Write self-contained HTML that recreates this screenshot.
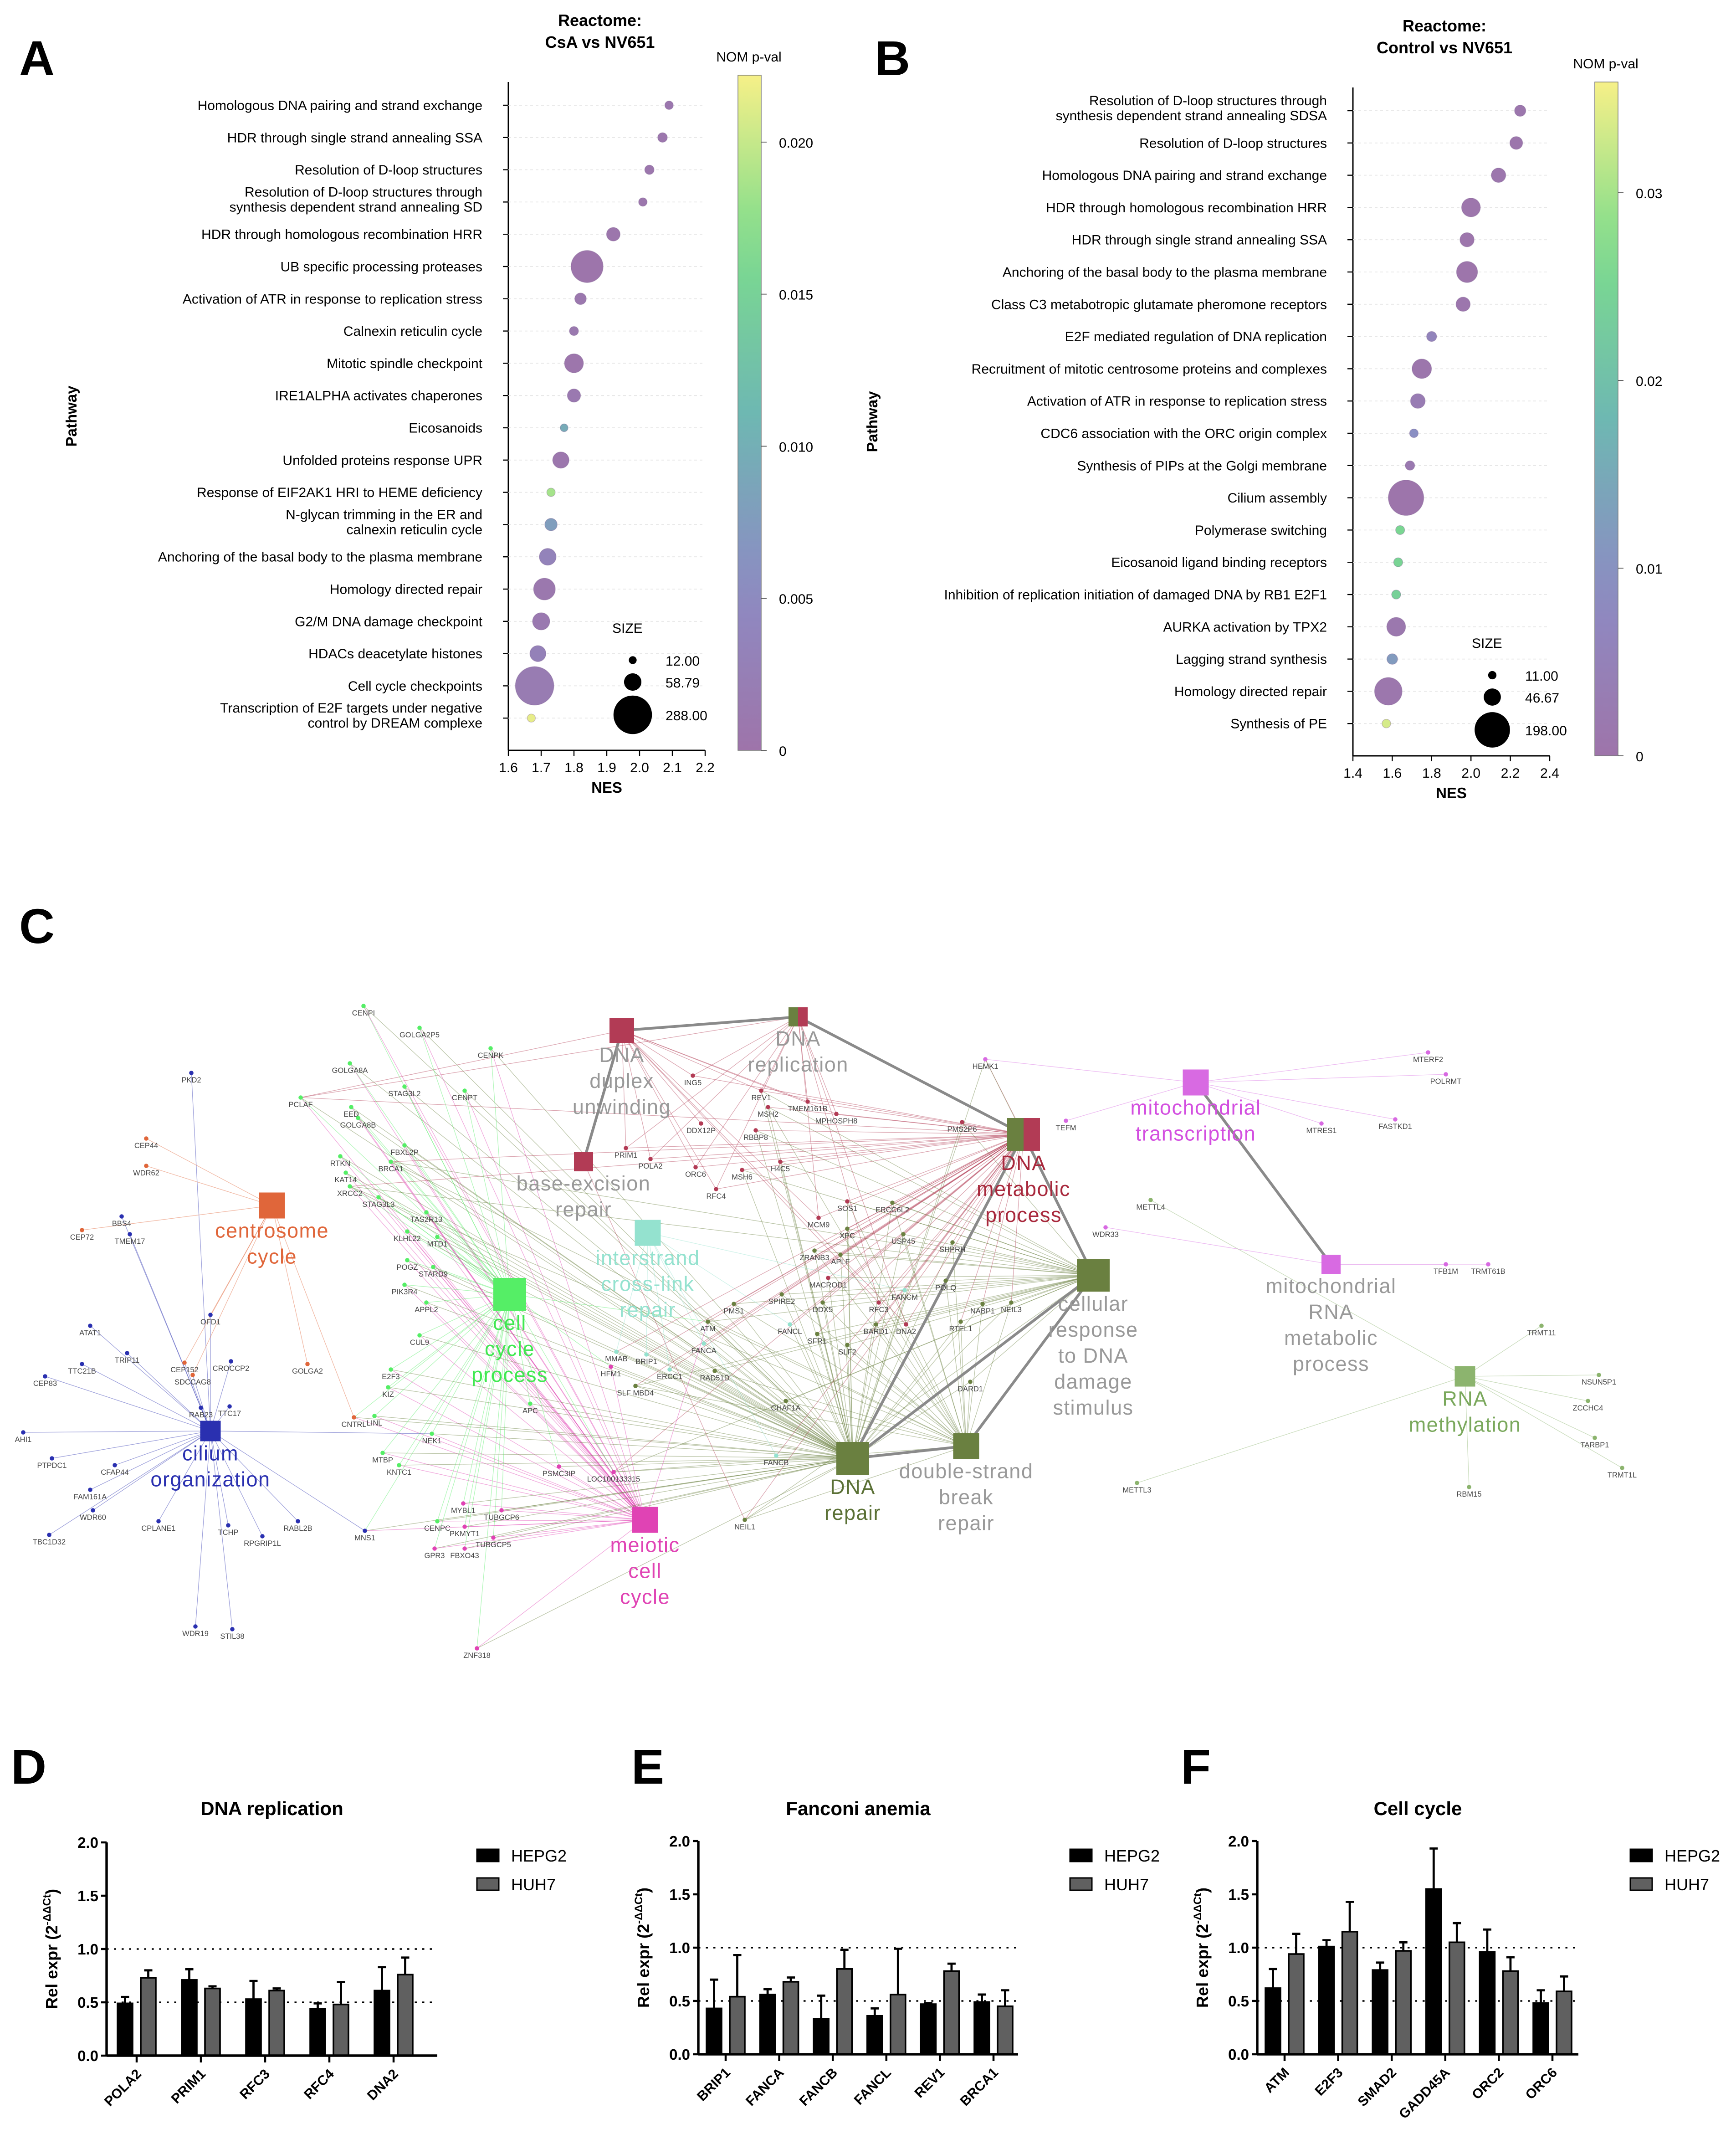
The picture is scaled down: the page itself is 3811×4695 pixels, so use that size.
<!DOCTYPE html>
<html><head><meta charset="utf-8">
<style>
html,body{margin:0;padding:0;background:#fff;}
svg{display:block;font-family:"Liberation Sans",Arial,sans-serif;}
</style></head>
<body>
<svg id="fig" xmlns="http://www.w3.org/2000/svg" width="3811" height="4695" viewBox="0 0 1270.33 1565">
<rect x="0" y="0" width="1270.33" height="1565" fill="#fff"/>
<g font-weight="bold" font-size="36" fill="#000">
<text x="14" y="55">A</text>
<text x="640" y="55">B</text>
<text x="14" y="690">C</text>
<text x="8" y="1305">D</text>
<text x="462" y="1305">E</text>
<text x="864" y="1305">F</text>
</g>
<g id="gA"></g>
<g id="gB"></g>
<g id="gC"></g>
<g id="gD"></g>
<g id="gE"></g>
<g id="gF"></g>
</svg>
<script>
// ---------- Panel A data ----------
const pathwaysA = ["Homologous DNA pairing and strand exchange","HDR through single strand annealing SSA","Resolution of D-loop structures","Resolution of D-loop structures through|synthesis dependent strand annealing SD","HDR through homologous recombination HRR","UB specific processing proteases","Activation of ATR in response to replication stress","Calnexin reticulin cycle","Mitotic spindle checkpoint","IRE1ALPHA activates chaperones","Eicosanoids","Unfolded proteins response UPR","Response of EIF2AK1 HRI to HEME deficiency","N-glycan trimming in the ER and|calnexin reticulin cycle","Anchoring of the basal body to the plasma membrane","Homology directed repair","G2/M DNA damage checkpoint","HDACs deacetylate histones","Cell cycle checkpoints","Transcription of E2F targets under negative|control by DREAM complexe"];
const nesA = [2.09,2.07,2.03,2.01,1.92,1.84,1.82,1.80,1.80,1.80,1.77,1.76,1.73,1.73,1.72,1.71,1.70,1.69,1.68,1.67];
const sizeA = [14,18,17,14,36,200,26,16,70,34,12,52,14,30,55,92,58,50,288,13];
const pvalA = [0.0008,0.0006,0.0007,0.0006,0.0005,0.0002,0.0009,0.0011,0.0004,0.0012,0.0095,0.0007,0.0185,0.0078,0.0035,0.0009,0.0012,0.0030,0.0018,0.0215];
const nesTicksA = [1.6,1.7,1.8,1.9,2.0,2.1,2.2];
const pTicksA = [0,0.005,0.010,0.015,0.020];
const sizeLegA = [12.00,58.79,288.00];
// ---------- Panel B data ----------
const pathwaysB = ["Resolution of D-loop structures through|synthesis dependent strand annealing SDSA","Resolution of D-loop structures","Homologous DNA pairing and strand exchange","HDR through homologous recombination HRR","HDR through single strand annealing SSA","Anchoring of the basal body to the plasma membrane","Class C3 metabotropic glutamate pheromone receptors","E2F mediated regulation of DNA replication","Recruitment of mitotic centrosome proteins and complexes","Activation of ATR in response to replication stress","CDC6 association with the ORC origin complex","Synthesis of PIPs at the Golgi membrane","Cilium assembly","Polymerase switching","Eicosanoid ligand binding receptors","Inhibition of replication initiation of damaged DNA by RB1 E2F1","AURKA activation by TPX2","Lagging strand synthesis","Homology directed repair","Synthesis of PE"];
const nesB = [2.25,2.23,2.14,2.00,1.98,1.98,1.96,1.80,1.75,1.73,1.71,1.69,1.67,1.64,1.63,1.62,1.62,1.60,1.58,1.57];
const sizeB = [20,26,33,56,32,70,32,16,60,34,12,14,198,13,13,13,56,18,120,12];
const pvalB = [0.0010,0.0008,0.0009,0.0006,0.0007,0.0005,0.0009,0.0060,0.0008,0.0030,0.0095,0.0020,0.0003,0.0255,0.0250,0.0240,0.0015,0.0120,0.0010,0.0335];
const nesTicksB = [1.4,1.6,1.8,2.0,2.2,2.4];
const pTicksB = [0,0.01,0.02,0.03];
const sizeLegB = [11.00,46.67,198.00];
// ---------- Bar chart data ----------
const genesD = ["POLA2","PRIM1","RFC3","RFC4","DNA2"];
const hepg2D = [0.49,0.71,0.53,0.44,0.61];
const huh7D = [0.73,0.63,0.61,0.48,0.76];
const hepg2ErrD = [0.06,0.10,0.17,0.05,0.22];
const huh7ErrD = [0.07,0.02,0.02,0.21,0.16];
const genesE = ["BRIP1","FANCA","FANCB","FANCL","REV1","BRCA1"];
const hepg2E = [0.43,0.56,0.33,0.36,0.47,0.49];
const huh7E = [0.54,0.68,0.80,0.56,0.78,0.45];
const hepg2ErrE = [0.27,0.05,0.22,0.07,0.01,0.07];
const huh7ErrE = [0.39,0.04,0.18,0.43,0.07,0.15];
const genesF = ["ATM","E2F3","SMAD2","GADD45A","ORC2","ORC6"];
const hepg2F = [0.62,1.01,0.79,1.55,0.96,0.48];
const huh7F = [0.94,1.15,0.97,1.05,0.78,0.59];
const hepg2ErrF = [0.18,0.06,0.07,0.38,0.21,0.12];
const huh7ErrF = [0.19,0.28,0.08,0.18,0.13,0.14];
const yTicksBar = [0.0,0.5,1.0,1.5,2.0];

const NS="http://www.w3.org/2000/svg";
function mk(tag,attrs,parent,txt){const e=document.createElementNS(NS,tag);for(const k in attrs)e.setAttribute(k,attrs[k]);if(txt!==undefined)e.textContent=txt;if(parent)parent.appendChild(e);return e;}

function pcolor(t){
  const stops=[[0,[158,116,170]],[0.25,[140,140,196]],[0.5,[110,184,178]],[0.75,[124,220,140]],[1,[246,240,136]]];
  t=Math.max(0,Math.min(1,t));
  for(let i=1;i<stops.length;i++){if(t<=stops[i][0]){const a=stops[i-1],b=stops[i];const f=(t-a[0])/(b[0]-a[0]);const c=a[1].map((v,j)=>Math.round(v+(b[1][j]-v)*f));return `rgb(${c[0]},${c[1]},${c[2]})`;}}
  return 'rgb(246,240,136)';
}

function dotplot(g,cfg){
  const {paths,nes,size,pval,ticks,pticks,leg,x0,x1,nmin,nmax,yTop,yStep,yAxTop,yAxBot,cbx,cbTop,pmax,rk,title,legX,legY,gid,ptx}=cfg;
  const xs=v=>x0+(v-nmin)/(nmax-nmin)*(x1-x0);
  const ys=i=>yTop+i*yStep;
  let t=mk('text',{x:(x0+x1)/2-5,y:title[2],'text-anchor':'middle','font-size':12,'font-weight':'bold'},g,title[0]);
  
  t=mk('text',{x:(x0+x1)/2-5,y:title[2]+16,'text-anchor':'middle','font-size':12,'font-weight':'bold'},g,title[1]);
  
  let a=mk('line',{x1:x0,y1:yAxTop,x2:x0,y2:yAxBot,stroke:'#000','stroke-width':1},g);
  
  a=mk('line',{x1:x0,y1:yAxBot,x2:x1,y2:yAxBot,stroke:'#000','stroke-width':1},g);
  
  paths.forEach((p,i)=>{
    const y=ys(i);
    mk('line',{x1:x0,y1:y,x2:x1,y2:y,stroke:'#e6e6e6','stroke-width':0.6,'stroke-dasharray':'2,2'},g);
    mk('line',{x1:x0-4,y1:y,x2:x0,y2:y,stroke:'#000','stroke-width':0.8},g);
    const parts=p.split('|');
    const lab=mk('text',{x:x0-19,y:parts.length>1?y-4:y+3.5,'text-anchor':'end','font-size':10},g);
    
    parts.forEach((s,k)=>{mk('tspan',{x:x0-19,dy:k?11:0},lab,s);});
  });
  ticks.forEach(v=>{
    const x=xs(v);
    mk('line',{x1:x,y1:yAxBot,x2:x,y2:yAxBot+4,stroke:'#000','stroke-width':0.8},g);
    const tl=mk('text',{x:x,y:yAxBot+16,'text-anchor':'middle','font-size':10},g,v.toFixed(1));
    
  });
  t=mk('text',{x:(x0+x1)/2,y:yAxBot+31,'text-anchor':'middle','font-size':11,'font-weight':'bold'},g,'NES');
  
  const my=(yAxTop+yAxBot)/2;
  t=mk('text',{x:ptx,y:my,'text-anchor':'middle','font-size':11,'font-weight':'bold',transform:`rotate(-90 ${ptx} ${my})`},g,'Pathway');
  
  paths.forEach((p,i)=>{
    const c=mk('circle',{cx:xs(nes[i]),cy:ys(i),r:Math.sqrt(size[i])*rk,fill:pcolor(pval[i]/pmax),stroke:'rgba(120,90,140,0.35)','stroke-width':0.5},g);
    
    
  });
  const defs=mk('defs',{},g);
  const lg=mk('linearGradient',{id:gid,x1:0,y1:1,x2:0,y2:0},defs);
  for(let k=0;k<=10;k++)mk('stop',{offset:k/10,'stop-color':pcolor(k/10)},lg);
  const cb=mk('rect',{x:cbx,y:cbTop,width:17,height:yAxBot-cbTop,fill:`url(#${gid})`,stroke:'#777','stroke-width':0.5},g);
  
  t=mk('text',{x:cbx+8,y:cbTop-10,'text-anchor':'middle','font-size':10},g,'NOM p-val');
  
  const py=v=>yAxBot-(v/pmax)*(yAxBot-cbTop);
  pticks.forEach(v=>{
    const y=py(v);
    mk('line',{x1:cbx+17,y1:y,x2:cbx+21,y2:y,stroke:'#555','stroke-width':0.6},g);
    const tl=mk('text',{x:cbx+30,y:y+4,'font-size':10},g,v===0?'0':(pmax<0.025?v.toFixed(3):v.toFixed(2)));
    
  });
  t=mk('text',{x:legX-15,y:legY,'font-size':10},g,'SIZE');
  
  const offs=[20,36,60];
  leg.forEach((s,k)=>{
    const c=mk('circle',{cx:legX,cy:legY+offs[k],r:Math.sqrt(s)*rk,fill:'#000'},g);
    
    const tl=mk('text',{x:legX+24,y:legY+offs[k]+4,'font-size':10},g,s.toFixed(2));
    
  });
}
dotplot(document.getElementById('gA'),{paths:pathwaysA,nes:nesA,size:sizeA,pval:pvalA,ticks:nesTicksA,pticks:pTicksA,leg:sizeLegA,x0:372,x1:516,nmin:1.6,nmax:2.2,yTop:77,yStep:23.6,yAxTop:60,yAxBot:549,cbx:540,cbTop:55,pmax:0.0222,rk:0.83,title:['Reactome:','CsA vs NV651',19],legX:463,legY:463,gid:'cbA',ptx:56});
dotplot(document.getElementById('gB'),{paths:pathwaysB,nes:nesB,size:sizeB,pval:pvalB,ticks:nesTicksB,pticks:pTicksB,leg:sizeLegB,x0:990,x1:1134,nmin:1.4,nmax:2.4,yTop:81,yStep:23.6,yAxTop:64,yAxBot:553,cbx:1167,cbTop:60,pmax:0.0359,rk:0.92,title:['Reactome:','Control vs NV651',23],legX:1092,legY:474,gid:'cbB',ptx:642});

// ---------- Panel C network ----------
const hubIds=["dup","rep","ber","met","mtr","cen","icl","ccp","crd","mrna","rme","cil","dr","dsb","mei"];
const hubPos={dup:[455,754,18],rep:[584,744,14],ber:[427,850,14],met:[749,830,24],mtr:[875,792,19],cen:[199,882,19],icl:[474,902,19],ccp:[373,947,24],crd:[800,933,24],mrna:[974,925,14],rme:[1072,1007,15],cil:[154,1047,15],dr:[624,1067,24],dsb:[707,1058,19],mei:[472,1112,19]};
const hubColor={dup:'#b23b55',rep:'#b23b55',ber:'#b23b55',met:'#b23b55',mtr:'#d86ae2',cen:'#e0663a',icl:'#94e2cf',ccp:'#55ee66',crd:'#6a8040',mrna:'#d86ae2',rme:'#8cb46e',cil:'#2a30b0',dr:'#6a8040',dsb:'#6a8040',mei:'#e043b4'};
const hubLabel={dup:['DNA','duplex','unwinding'],rep:['DNA','replication'],ber:['base-excision','repair'],met:['DNA','metabolic','process'],mtr:['mitochondrial','transcription'],cen:['centrosome','cycle'],icl:['interstrand','cross-link','repair'],ccp:['cell','cycle','process'],crd:['cellular','response','to DNA','damage','stimulus'],mrna:['mitochondrial','RNA','metabolic','process'],rme:['RNA','methylation'],cil:['cilium','organization'],dr:['DNA','repair'],dsb:['double-strand','break','repair'],mei:['meiotic','cell','cycle']};
const hubLabelColor={dup:'#999',rep:'#999',ber:'#999',met:'#a8283c',mtr:'#d34fe0',cen:'#e0663a',icl:'#94e2cf',ccp:'#3fe850',crd:'#999',mrna:'#999',rme:'#7aa85c',cil:'#2a30b0',dr:'#5a7035',dsb:'#999',mei:'#e043b4'};
const hubEdges=[["dup","rep"],["rep","met"],["dup","ber"],["met","crd"],["crd","dr"],["crd","dsb"],["dr","dsb"],["mtr","mrna"],["met","dr"]];
const geneNames=["CENPI","GOLGA2P5","CENPK","PKD2","GOLGA8A","CENPT","STAG3L2","PCLAF","CEP44","EED","GOLGA8B","FBXL2P","BRCA1","WDR62","RTKN","KAT14","XRCC2","STAG3L3","TAS2R13","KLHL22","MTD1","BBS4","CEP72","TMEM17","POGZ","STARD9","PIK3R4","APPL2","CUL9","OFD1","ATAT1","TRIP11","TTC21B","CEP83","CEP152","CROCCP2","SDCCAG8","GOLGA2","RAB23","TTC17","E2F3","KIZ","CNTRL","LINL","NEK1","AHI1","PTPDC1","CFAP44","FAM161A","WDR60","TBC1D32","CPLANE1","TCHP","RPGRIP1L","RABL2B","MNS1","WDR19","STIL38","MTBP","KNTC1","APC","PSMC3IP","MYBL1","CENPC","PKMYT1","TUBGCP6","TUBGCP5","GPR3","FBXO43","ZNF318","LOC100133315","NEIL1","ING5","REV1","TMEM161B","MSH2","MPHOSPH8","PRIM1","POLA2","DDX12P","RBBP8","ORC6","MSH6","H4C5","RFC4","PMS2P6","HEMK1","TEFM","METTL4","SOS1","ERCC6L2","MCM9","XPC","USP45","ZRANB3","APLF","SHPRH","MACROD1","POLQ","SPIRE2","PMS1","DDX5","FANCM","RFC3","NABP1","NEIL3","ATM","FANCL","SFR1","DNA2","BARD1","RTEL1","SLF2","FANCA","MMAB","HFM1","BRIP1","SLF MBD4","ERCC1","RAD51D","DARD1","CHAF1A","FANCB","WDR33","TFB1M","TRMT61B","TRMT11","NSUN5P1","ZCCHC4","TARBP1","TRMT1L","RBM15","METTL3","MTERF2","POLRMT","MTRES1","FASTKD1"];
const genePos=[[266,736],[307,752],[359,767],[140,785],[256,778],[340,798],[296,795],[220,803],[107,833],[257,810],[262,818],[296,838],[286,850],[107,853],[249,846],[253,858],[256,868],[277,876],[312,887],[298,901],[320,905],[89,890],[60,900],[95,903],[298,922],[317,927],[296,940],[312,953],[307,977],[154,962],[66,970],[93,990],[60,998],[33,1007],[135,997],[169,996],[141,1006],[225,998],[147,1030],[168,1029],[286,1002],[284,1015],[259,1037],[274,1036],[316,1049],[17,1048],[38,1067],[84,1072],[66,1090],[68,1105],[36,1123],[116,1113],[167,1116],[192,1124],[218,1113],[267,1120],[143,1190],[170,1192],[280,1063],[292,1072],[388,1027],[409,1073],[339,1100],[320,1113],[340,1117],[367,1105],[361,1125],[318,1133],[340,1133],[349,1206],[449,1077],[545,1112],[507,787],[557,798],[591,806],[562,810],[612,815],[458,840],[476,848],[513,822],[553,827],[509,854],[543,856],[571,850],[524,870],[704,821],[721,775],[780,820],[842,878],[620,879],[653,880],[599,891],[620,899],[661,903],[596,915],[615,918],[697,909],[606,935],[692,937],[572,947],[537,954],[602,953],[662,944],[643,953],[719,954],[740,953],[518,967],[578,969],[598,976],[663,969],[641,969],[703,967],[620,984],[515,983],[451,989],[447,1000],[473,991],[465,1014],[490,1002],[523,1003],[710,1011],[575,1025],[568,1065],[809,898],[1058,925],[1089,925],[1128,970],[1170,1006],[1162,1025],[1167,1052],[1187,1074],[1075,1088],[832,1085],[1045,770],[1058,786],[967,822],[1021,819]];
const geneHubs=["ccp","ccp","ccp","cil","ccp","ccp","ccp","ccp rep","cen","ccp","ccp","ccp","ccp dr met","cen","ccp","ccp","ccp dr","ccp","ccp","ccp","ccp","cil","cen","cil","ccp","ccp","ccp","ccp","ccp","cil cen","cil","cil","cil","cil","cen cil","cil","cen cil","cen","cil","cil","ccp","ccp","cen ccp","ccp","ccp cil","cil","cil","cil","cil","cil","cil","cil","cil","cil","cil","cil ccp","cil","cil","ccp","ccp","ccp","mei","mei","ccp mei","mei","mei","mei","mei","mei","mei","mei dr","dr ber","dup rep","rep met","rep","met dr","rep","rep dup","rep dup","dup","met","rep","met","met","rep","met","mtr met","mtr","rme","met dr","dr","rep","dr","dr","dr","dr","dr","met","dr","dr","dr","dr","icl","rep","dr","dr","dr ccp","icl","dr","rep","dr","dr","dr","icl","icl","mei","icl","dr","icl","dsb","dsb","dsb","icl","mrna","mrna","mrna","rme","rme","rme","rme","rme","rme","rme","mtr","mtr","mtr","mtr"];
(function(){
  const g=document.getElementById('gC');
  const eg=mk('g',{},g);
  const extra={dr:['met','crd','dsb'],icl:['dr','met'],rep:['met','dup'],met:['crd','dr'],ccp:['dr','mei'],dsb:['crd','dr'],mei:['dr','ccp']};
  geneNames.forEach((n,i)=>{
    const hs=geneHubs[i].split(' ');
    let all=hs.slice();hs.forEach(h=>{(extra[h]||[]).forEach(e=>{if(!all.includes(e))all.push(e);});});
    all.forEach(h=>{
      const hp=hubPos[h];
      const l=mk('line',{x1:genePos[i][0],y1:genePos[i][1],x2:hp[0],y2:hp[1],stroke:hubColor[h],'stroke-width':0.45,'stroke-opacity':0.45},eg);
      
    });
  });
  hubEdges.forEach(e=>{
    const a=hubPos[e[0]],b=hubPos[e[1]];
    const l=mk('line',{x1:a[0],y1:a[1],x2:b[0],y2:b[1],stroke:'#8a8a8a','stroke-width':2},eg);
    
  });
  geneNames.forEach((n,i)=>{
    const h=geneHubs[i].split(' ')[0];
    const c=mk('circle',{cx:genePos[i][0],cy:genePos[i][1],r:1.6,fill:hubColor[h]},g);
    
    const t=mk('text',{x:genePos[i][0],y:genePos[i][1]+7,'text-anchor':'middle','font-size':5.5,fill:'#444'},g,n);
    
  });
  hubIds.forEach(h=>{
    const [x,y,s]=hubPos[h];
    if(h==='rep'||h==='met'){
      const a=mk('rect',{x:x-s/2,y:y-s/2,width:s/2,height:s,fill:'#6a8040'},g);
      
      mk('rect',{x:x,y:y-s/2,width:s/2,height:s,fill:'#b23b55'},g);
    } else {
      const a=mk('rect',{x:x-s/2,y:y-s/2,width:s,height:s,fill:hubColor[h]},g);
      
    }
    const lines=hubLabel[h];
    const t=mk('text',{x:x,y:y+s/2+14,'text-anchor':'middle','font-size':15,fill:hubLabelColor[h],'letter-spacing':0.5},g);
    
    lines.forEach((s2,k)=>mk('tspan',{x:x,dy:k?19:0},t,s2));
  });
})();

// ---------- Bar charts ----------
function barchart(g,cfg){
  const {genes,v1,v2,e1,e2,ax,x1,y0,y2,gx0,gstep,title,legX}=cfg;
  const ys=v=>y0-(v/2)*(y0-y2);
  const bw=11;
  let t=mk('text',{x:(ax+x1)/2,y:1328,'text-anchor':'middle','font-size':14,'font-weight':'bold'},g,title);
  
  [0.5,1.0].forEach(v=>{
    const l=mk('line',{x1:ax,y1:ys(v),x2:x1,y2:ys(v),stroke:'#000','stroke-width':1.2,'stroke-dasharray':'1.5,4'},g);
    
  });
  genes.forEach((gn,i)=>{
    const cx=gx0+i*gstep;
    [[v1,e1,'#000',cx-8.5],[v2,e2,'#606060',cx+8.5]].forEach(([vv,ee,col,bx],k)=>{
      const top=ys(vv[i]),et=ys(vv[i]+ee[i]);
      mk('line',{x1:bx,y1:top,x2:bx,y2:et,stroke:'#000','stroke-width':1.6},g);
      mk('line',{x1:bx-3,y1:et,x2:bx+3,y2:et,stroke:'#000','stroke-width':1.6},g);
      const r=mk('rect',{x:bx-bw/2,y:top,width:bw,height:y0-top,fill:col,stroke:'#000','stroke-width':1.2},g);
      
      
    });
    mk('line',{x1:cx,y1:y0,x2:cx,y2:y0+5,stroke:'#000','stroke-width':1.5},g);
    const tl=mk('text',{x:cx+4,y:y0+14,'text-anchor':'end','font-size':10,'font-weight':'bold',transform:`rotate(-45 ${cx+4} ${y0+14})`},g,gn);
    
  });
  let a=mk('line',{x1:ax,y1:y2,x2:ax,y2:y0,stroke:'#000','stroke-width':1.8},g);
  
  a=mk('line',{x1:ax,y1:y0,x2:x1,y2:y0,stroke:'#000','stroke-width':1.8},g);
  
  yTicksBar.forEach(v=>{
    mk('line',{x1:ax-4,y1:ys(v),x2:ax,y2:ys(v),stroke:'#000','stroke-width':1.5},g);
    const tl=mk('text',{x:ax-6,y:ys(v)+4,'text-anchor':'end','font-size':11,'font-weight':'bold'},g,v.toFixed(1));
    
  });
  const lx=ax-36,ly=(y0+y2)/2;
  t=mk('text',{x:lx,y:ly,'text-anchor':'middle','font-size':12,'font-weight':'bold',transform:`rotate(-90 ${lx} ${ly})`},g);
  
  mk('tspan',{},t,'Rel expr (2');
  mk('tspan',{dy:-5,'font-size':8},t,'-ΔΔCt');
  mk('tspan',{dy:5},t,')');
  [['HEPG2','#000',1358],['HUH7','#606060',1379]].forEach(([n,c,y])=>{
    const r=mk('rect',{x:legX,y:y-5,width:16,height:9,fill:c,stroke:'#000','stroke-width':1},g);
    
    const tl=mk('text',{x:legX+25,y:y+4,'font-size':12},g,n);
    
  });
}
barchart(document.getElementById('gD'),{genes:genesD,v1:hepg2D,v2:huh7D,e1:hepg2ErrD,e2:huh7ErrD,ax:78,x1:320,y0:1504,y2:1348,gx0:100,gstep:47,title:'DNA replication',legX:349});
barchart(document.getElementById('gE'),{genes:genesE,v1:hepg2E,v2:huh7E,e1:hepg2ErrE,e2:huh7ErrE,ax:511,x1:745,y0:1503,y2:1347,gx0:531,gstep:39.2,title:'Fanconi anemia',legX:783});
barchart(document.getElementById('gF'),{genes:genesF,v1:hepg2F,v2:huh7F,e1:hepg2ErrF,e2:huh7ErrF,ax:920,x1:1155,y0:1503,y2:1347,gx0:940,gstep:39.2,title:'Cell cycle',legX:1193});
</script>
</body></html>
